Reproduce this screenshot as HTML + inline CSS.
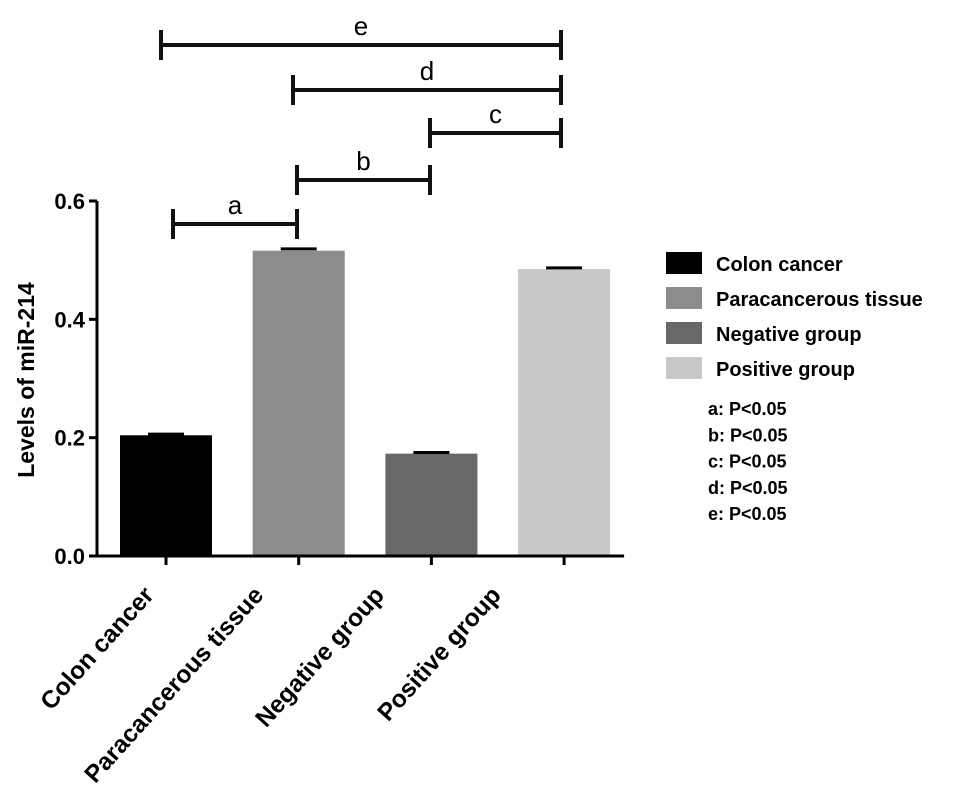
<!DOCTYPE html>
<html><head><meta charset="utf-8"><style>
body{margin:0;background:#fff;}
svg text{font-family:"Liberation Sans",Arial,sans-serif;}
</style></head><body>
<svg id="chart" width="969" height="802" viewBox="0 0 969 802">
<g id="g"></g>
</svg>
<script>
const categories=["Colon cancer","Paracancerous tissue","Negative group","Positive group"];
const values=[0.204,0.516,0.173,0.485];
const errors=[0.002,0.003,0.002,0.002];
const colors=["#000000","#8c8c8c","#686868","#c8c8c8"];
const yTicks=[0,0.2,0.4,0.6];
const yTickLabels=["0.0","0.2","0.4","0.6"];
const sigLabels=["a","b","c","d","e"];
const sigFrom=[0,1,2,1,0];
const sigTo=[1,2,3,3,3];
const pNotes=["a: P<0.05","b: P<0.05","c: P<0.05","d: P<0.05","e: P<0.05"];

const NS="http://www.w3.org/2000/svg";
const g=document.getElementById('g');
const X0=97,Y0=556,YT=201,YMAX=0.6;
const bandStart=120,bandStep=132.7,barW=92;
const labelShift=[-11,-34,-46,-62];
function y(v){return Y0-(v/YMAX)*(Y0-YT);}
function xc(i){return bandStart+i*bandStep+barW/2;}
function mk(tag,attrs,parent){const e=document.createElementNS(NS,tag);for(const k in attrs)e.setAttribute(k,attrs[k]);(parent||g).appendChild(e);return e;}

categories.forEach((c,i)=>{
  const r=mk('rect',{x:bandStart+i*bandStep,y:y(values[i]),width:barW,height:Y0-y(values[i]),fill:colors[i]});
  
  
  const eb=mk('line',{x1:xc(i)-18,x2:xc(i)+18,y1:y(values[i]+errors[i]),y2:y(values[i]+errors[i]),stroke:'#000','stroke-width':3});
  
  
  mk('line',{x1:xc(i),x2:xc(i),y1:Y0,y2:Y0+9,stroke:'#000','stroke-width':3});
  const t=mk('text',{x:0,y:0,'font-size':24.5,'font-weight':'bold','text-anchor':'end',transform:`translate(${xc(i)+labelShift[i]},${Y0+40}) rotate(-48)`});
  t.textContent=c;
  
  
});
const ya=mk('line',{x1:X0,x2:X0,y1:YT,y2:Y0+1.5,stroke:'#000','stroke-width':3});


const xa=mk('line',{x1:X0-8,x2:bandStart+3*bandStep+barW+14,y1:Y0,y2:Y0,stroke:'#000','stroke-width':3});


yTicks.forEach((v,i)=>{
  mk('line',{x1:X0-8,x2:X0,y1:y(v),y2:y(v),stroke:'#000','stroke-width':3});
  const t=mk('text',{x:X0-12,y:y(v)+8,'font-size':22,'font-weight':'bold','text-anchor':'end'});
  t.textContent=yTickLabels[i];
  
  
});
const yt=mk('text',{x:0,y:0,'font-size':23,'font-weight':'bold','text-anchor':'middle',transform:'translate(34,380) rotate(-90)'});
yt.textContent='Levels of miR-214';



const sigY=[224,180,133,90,45];
const sigX1=[173,297,430,293,161];
const sigX2=[297,430,561,561,561];
sigLabels.forEach((l,i)=>{
  const gg=mk('g',{});
  
  
  mk('line',{x1:sigX1[i],x2:sigX2[i],y1:sigY[i],y2:sigY[i],stroke:'#111','stroke-width':4},gg);
  mk('line',{x1:sigX1[i],x2:sigX1[i],y1:sigY[i]-15,y2:sigY[i]+15,stroke:'#111','stroke-width':4},gg);
  mk('line',{x1:sigX2[i],x2:sigX2[i],y1:sigY[i]-15,y2:sigY[i]+15,stroke:'#111','stroke-width':4},gg);
  const t=mk('text',{x:(sigX1[i]+sigX2[i])/2,y:sigY[i]-10,'font-size':26,'text-anchor':'middle'},gg);
  t.textContent=l;
});

categories.forEach((c,i)=>{
  const gg=mk('g',{});
  
  
  mk('rect',{x:666,y:252+i*35,width:36,height:22,fill:colors[i]},gg);
  const t=mk('text',{x:716,y:271+i*35,'font-size':20,'font-weight':'bold'},gg);
  t.textContent=c;
});
pNotes.forEach((p,i)=>{
  const t=mk('text',{x:708,y:415+i*26.3,'font-size':18,'font-weight':'bold'});
  t.textContent=p;
  
  
});
</script>
</body></html>
